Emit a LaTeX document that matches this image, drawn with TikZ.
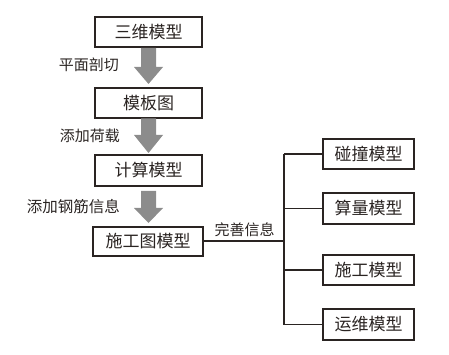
\documentclass[tikz,border=0pt]{standalone}
\usepackage{fontspec}
\setmainfont{Noto Sans CJK SC}
\usetikzlibrary{calc}
\definecolor{linec}{HTML}{2A2422}
\definecolor{arrowc}{HTML}{8C8C8C}
\tikzset{
  box/.style={draw=linec, line width=1.3pt, text=linec, inner sep=0pt, minimum height=30pt, font=\fontsize{17}{17}\selectfont},
  leftbox/.style={box, minimum width=107pt},
  rightbox/.style={box, minimum width=91pt},
  lab/.style={text=linec, inner sep=0pt, font=\fontsize{15}{15}\selectfont},
  conn/.style={draw=linec, line width=1.2pt},
  blockarrow/.style={fill=arrowc, draw=none}
}
\newcommand{\grayarrow}[3]{% top coordinate, bottom coordinate name
  \fill[blockarrow] let \p1=(#1), \p2=(#2) in
    (\x1-7.5pt,\y1) -- (\x1+7.5pt,\y1) -- (\x1+7.5pt,\y2+#3) -- (\x1+14.5pt,\y2+#3)
    -- (\x1,\y2) -- (\x1-14.5pt,\y2+#3) -- (\x1-7.5pt,\y2+#3) -- cycle;
}
\begin{document}
\begin{tikzpicture}[x=1pt,y=-1pt]
\useasboundingbox (0,0) rectangle (449,355);
\node[leftbox] (m1) at (148.5,32) {三维模型};
\node[leftbox] (m2) at (148.5,103) {模板图};
\node[leftbox, minimum height=31pt] (m3) at (148.5,170.5) {计算模型};
\node[leftbox, minimum width=110pt, minimum height=29pt] (m4) at (148,241.5) {施工图模型};
\node[rightbox] (r1) at (368.5,154) {碰撞模型};
\node[rightbox, minimum height=31pt] (r2) at (368.5,208.5) {算量模型};
\node[rightbox] (r3) at (368.5,270) {施工模型};
\node[rightbox, minimum height=31pt] (r4) at (368.5,324.5) {运维模型};
% arrows
\coordinate (a1t) at (148.5,48);
\coordinate (a1b) at (148.5,84);
\coordinate (a2t) at (148.5,118.5);
\coordinate (a2b) at (148.5,153);
\coordinate (a3t) at (148.5,191);
\coordinate (a3b) at (148.5,223);
\grayarrow{a1t}{a1b}{17pt}
\grayarrow{a2t}{a2b}{18pt}
\grayarrow{a3t}{a3b}{15pt}
% labels
\node[lab, anchor=east] (l1) at (119,65) {平面剖切};
\node[lab, anchor=east] (l2) at (120,136) {添加荷载};
\node[lab, anchor=east, font=\fontsize{15.5}{15.5}\selectfont] (l3) at (120,207) {添加钢筋信息};
\node[lab] (l4) at (244.5,230) {完善信息};
% tree
\coordinate (trunk) at (284,241);
\coordinate (t1) at (284,154);
\coordinate (t4) at (284,324.5);
\draw[conn] (m4.east |- trunk) -- (trunk);
\draw[conn] (t1) -- (t4);
\draw[conn] (t1) -- (r1.west);
\draw[conn] (r2.west -| trunk) -- (r2.west);
\draw[conn] (r3.west -| trunk) -- (r3.west);
\draw[conn] (t4) -- (r4.west);
\end{tikzpicture}
\end{document}
